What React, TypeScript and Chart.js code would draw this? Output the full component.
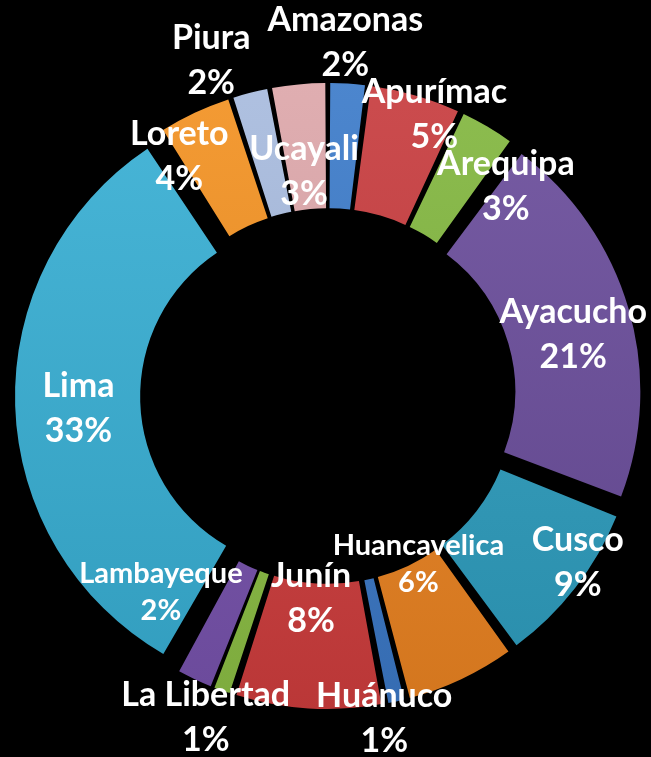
import { useEffect, useRef } from "react";
import { Chart, ArcElement, DoughnutController } from "chart.js";

Chart.register(ArcElement, DoughnutController);

// ---- data ----
const regions = [
  "Amazonas", "Apurímac", "Arequipa", "Ayacucho", "Cusco", "Huancavelica", "Huánuco",
  "Junín", "La Libertad", "Lambayeque", "Lima", "Loreto", "Piura", "Ucayali",
];
const shares = [2, 5, 3, 21, 9, 6, 1, 8, 1, 2, 33, 4, 2, 3];
const sliceColors = [
  "#3A7BCB", "#C93A3C", "#82B83E", "#6A4C9C", "#2C9EC0", "#EE8420", "#3A78C8",
  "#D13C3C", "#8CC043", "#7752AE", "#36B0D6", "#F59220", "#A8BCE0", "#DFA7AA",
];

// ---- label placement (relative to each slice) ----
const labelRadius = [1.197, 1.017, 0.929, 0.854, 1.014, 0.644, 1.105, 0.685, 1.163, 0.871, 0.844, 0.953, 1.2, 0.763];
const labelShiftDeg = [-0.8, 4.5, 9.7, 2.2, -4.1, -3.1, 2.7, 1.2, 1.0, 15.2, -1.0, -6.6, -4.8, -0.7];
const labelSmall = [false, false, false, false, false, true, false, false, false, true, false, false, false, false];

const EXPLODE = 17; // uniform outward shift of every slice (px)
const RADIUS = 296; // nominal outer radius reference for labels (px)

function shade(hex: string, amt: number) {
  const n = parseInt(hex.slice(1), 16);
  const r = (n >> 16) & 255, g = (n >> 8) & 255, b = n & 255;
  const f = (c: number) => Math.max(0, Math.min(255, Math.round(amt >= 0 ? c + (255 - c) * amt : c * (1 + amt))));
  return `rgb(${f(r)},${f(g)},${f(b)})`;
}

const labelPlugin = {
  id: "sliceLabels",
  afterDatasetsDraw(chart: any) {
    const ctx = chart.ctx;
    const meta = chart.getDatasetMeta(0);
    ctx.save();
    ctx.fillStyle = "#ffffff";
    ctx.textAlign = "center";
    ctx.textBaseline = "middle";
    meta.data.forEach((arc: any, i: number) => {
      const p = arc.getProps(["x", "y", "startAngle", "endAngle"], true);
      const mid = (p.startAngle + p.endAngle) / 2 + (labelShiftDeg[i] * Math.PI) / 180;
      const r = RADIUS * labelRadius[i];
      const px = p.x + Math.cos(mid) * r;
      const py = p.y + Math.sin(mid) * r;
      const size = labelSmall[i] ? 29 : 34;
      const lh = labelSmall[i] ? 37 : 45;
      ctx.font = `bold ${size}px Lato, "Open Sans", sans-serif`;
      ctx.fillText(regions[i], px, py - lh / 2);
      ctx.fillText(`${shares[i]}%`, px, py + lh / 2);
    });
    ctx.restore();
  },
};

export default function App() {
  const ref = useRef<HTMLCanvasElement | null>(null);
  useEffect(() => {
    if (!ref.current) return;
    const total = shares.reduce((a, b) => a + b, 0);
    const chart = new Chart(ref.current, {
      type: "doughnut",
      data: {
        labels: regions,
        datasets: [
          {
            data: shares,
            backgroundColor: (c: any) => {
              const base = sliceColors[c.dataIndex] || "#888";
              const area = c.chart.chartArea;
              if (!area) return base;
              const g = c.chart.ctx.createLinearGradient(0, area.top, 0, area.bottom);
              g.addColorStop(0, shade(base, 0.1));
              g.addColorStop(1, shade(base, -0.12));
              return g;
            },
            // Chart.js translates by offset/4 and grows radius by offset/4*fix; make total shift uniform
            offset: (c: any) => {
              const v = shares[c.dataIndex] || 0;
              const circ = (v / total) * Math.PI * 2;
              const fix = 1 - Math.sin(Math.min(Math.PI, circ));
              return (4 * EXPLODE) / (1 + fix);
            },
            borderWidth: 0,
            spacing: 10,
          } as any,
        ],
      },
      options: {
        responsive: false,
        animation: false,
        radius: 291,
        cutout: "57%",
        layout: { padding: { left: 5, top: 35 } },
        plugins: { legend: { display: false }, tooltip: { enabled: false } },
        events: [],
      } as any,
      plugins: [labelPlugin],
    });
    return () => chart.destroy();
  }, []);
  return (
    <div style={{ position: "fixed", left: 0, top: 0, width: 651, height: 757, background: "#000" }}>
      <canvas ref={ref} width={651} height={757} style={{ display: "block" }} />
    </div>
  );
}
